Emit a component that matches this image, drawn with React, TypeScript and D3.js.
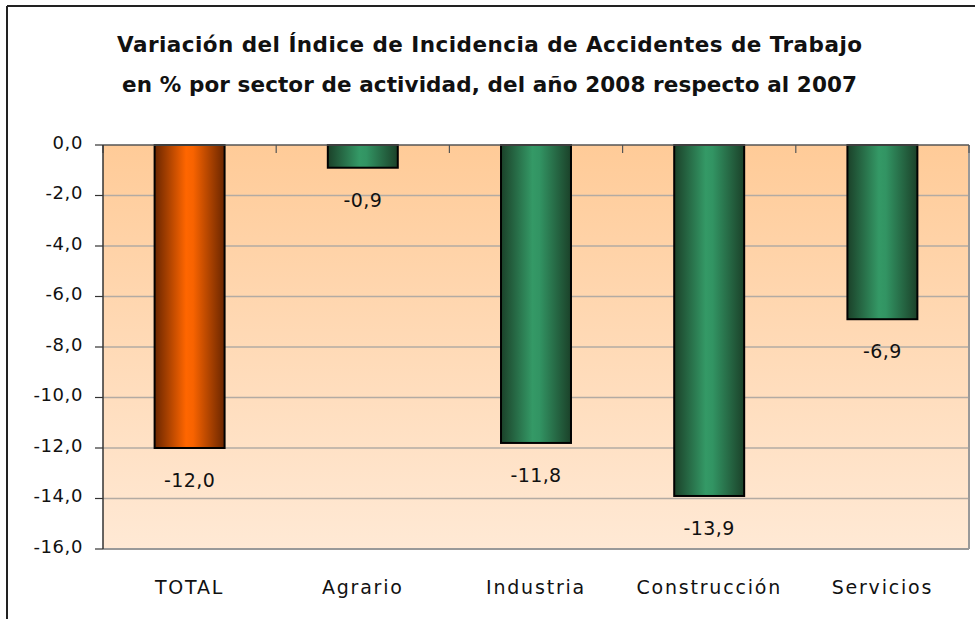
import React from "react";
import * as d3 from "d3";

const categories = ["TOTAL", "Agrario", "Industria", "Construcción", "Servicios"];
const values = [-12.0, -0.9, -11.8, -13.9, -6.9];
const yTicks = [0, -2, -4, -6, -8, -10, -12, -14, -16];
const titleLines = [
  "Variación del Índice de Incidencia de Accidentes de Trabajo",
  "en % por sector de actividad, del año 2008 respecto al 2007",
];
const titleWidths = [745, 735];

const W = 975;
const H = 619;
const plot = { left: 103, right: 969, top: 145, bottom: 549 };

const fmt = (v: number) => v.toFixed(1).replace(".", ",");

export default function App() {
  const x = d3
    .scaleBand<string>()
    .domain(categories)
    .range([plot.left, plot.right])
    .paddingInner(0.596)
    .paddingOuter(0.298);
  const xOuter = d3.scaleBand<string>().domain(categories).range([plot.left, plot.right]);
  const y = d3.scaleLinear().domain([0, -16]).range([plot.top, plot.bottom]);
  const font = "'DejaVu Sans', Verdana, sans-serif";
  const boundaries = categories.map((c) => xOuter(c)!).concat([plot.right]);

  return (
    <svg
      width={W}
      height={H}
      style={{ position: "absolute", left: 0, top: 0, background: "#fff" }}
      fontFamily={font}
    >
      <defs>
        <linearGradient id="bg" x1="0" y1="0" x2="0" y2="1">
          <stop offset="0" stopColor="#FFCB98" />
          <stop offset="1" stopColor="#FFE9D5" />
        </linearGradient>
        <linearGradient id="orange" x1="0" y1="0" x2="1" y2="0">
          <stop offset="0" stopColor="#6A2600" />
          <stop offset="0.45" stopColor="#FF6600" />
          <stop offset="0.55" stopColor="#F86300" />
          <stop offset="1" stopColor="#6A2600" />
        </linearGradient>
        <linearGradient id="green" x1="0" y1="0" x2="1" y2="0">
          <stop offset="0" stopColor="#1B4129" />
          <stop offset="0.45" stopColor="#349966" />
          <stop offset="0.55" stopColor="#329463" />
          <stop offset="1" stopColor="#1B4129" />
        </linearGradient>
      </defs>

      {/* outer frame */}
      <line x1={7} y1={6} x2={W} y2={6} stroke="#222" strokeWidth={2} />
      <line x1={7} y1={6} x2={7} y2={H} stroke="#222" strokeWidth={2} />

      {/* title */}
      {titleLines.map((t, i) => (
        <text
          key={i}
          x={W / 2 + 2}
          y={52 + i * 40}
          textAnchor="middle"
          fontSize={21.5}
          fontWeight="bold"
          textLength={titleWidths[i]}
          lengthAdjust="spacing"
          fill="#111"
        >
          {t}
        </text>
      ))}

      {/* plot background */}
      <rect
        x={plot.left}
        y={plot.top}
        width={plot.right - plot.left}
        height={plot.bottom - plot.top}
        fill="url(#bg)"
      />

      {/* gridlines */}
      {yTicks.slice(1, -1).map((t) => (
        <line
          key={t}
          x1={plot.left}
          x2={plot.right}
          y1={y(t)}
          y2={y(t)}
          stroke="#B3ABA3"
          strokeWidth={1.3}
        />
      ))}

      {/* plot border right/bottom */}
      <line x1={plot.right} y1={plot.top} x2={plot.right} y2={plot.bottom} stroke="#999" strokeWidth={2} />
      <line x1={plot.left} y1={plot.bottom} x2={plot.right} y2={plot.bottom} stroke="#999" strokeWidth={2} />

      {/* bars */}
      {categories.map((c, i) => (
        <rect
          key={c}
          x={x(c)!}
          y={y(0)}
          width={x.bandwidth()}
          height={y(values[i]) - y(0)}
          fill={i === 0 ? "url(#orange)" : "url(#green)"}
          stroke="#000"
          strokeWidth={2}
        />
      ))}

      {/* x axis at 0 (top) */}
      <line x1={plot.left} y1={plot.top} x2={plot.right} y2={plot.top} stroke="#555" strokeWidth={1.5} />
      {boundaries.map((b, i) => (
        <line key={i} x1={b} x2={b} y1={plot.top} y2={plot.top + 8} stroke="#555" strokeWidth={1.2} />
      ))}

      {/* y axis */}
      <line x1={plot.left} y1={plot.top} x2={plot.left} y2={plot.bottom} stroke="#333" strokeWidth={1.5} />
      {yTicks.map((t) => (
        <g key={t}>
          <line x1={plot.left - 8} x2={plot.left} y1={y(t)} y2={y(t)} stroke="#333" strokeWidth={1.2} />
          <text x={83} y={y(t) + 3.5} textAnchor="end" fontSize={18} letterSpacing={0.6} fill="#111">
            {fmt(t)}
          </text>
        </g>
      ))}

      {/* value labels */}
      {categories.map((c, i) => (
        <text
          key={c}
          x={x(c)! + x.bandwidth() / 2}
          y={y(values[i]) + 39}
          textAnchor="middle"
          fontSize={19}
          letterSpacing={0.4}
          fill="#111"
        >
          {fmt(values[i])}
        </text>
      ))}

      {/* category labels */}
      {categories.map((c) => (
        <text
          key={c}
          x={xOuter(c)! + xOuter.bandwidth() / 2}
          y={594}
          textAnchor="middle"
          fontSize={19}
          letterSpacing={1.8}
          fill="#111"
        >
          {c}
        </text>
      ))}
    </svg>
  );
}
